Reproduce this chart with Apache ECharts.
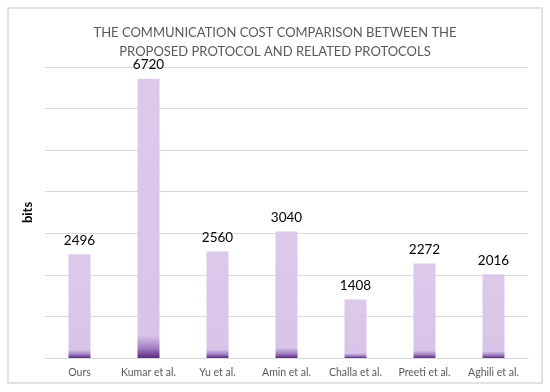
<!DOCTYPE html>
<html><head><meta charset="utf-8">
<script src="https://cdn.jsdelivr.net/npm/echarts@6/dist/echarts.min.js"></script>
<style>html,body{margin:0;padding:0;background:#fff}#c{width:550px;height:392px}</style>
</head><body><div id="c"></div>
<script>
const categories = ['Ours','Kumar et al.','Yu et al.','Amin et al.','Challa et al.','Preeti et al.','Aghili et al.'];
const values = [2496, 6720, 2560, 3040, 1408, 2272, 2016];
const titleText = 'THE COMMUNICATION COST COMPARISON BETWEEN THE\nPROPOSED PROTOCOL AND RELATED PROTOCOLS';
const axisName = 'bits';

const chart = echarts.init(document.getElementById('c'), null, {renderer:'canvas'});
const barColor = {
  type:'linear', x:0, y:0, x2:0, y2:1,
  colorStops:[
    {offset:0, color:'#dcc9ea'},
    {offset:0.92, color:'#d8c4e8'},
    {offset:0.965, color:'#a07fc2'},
    {offset:1, color:'#5a2a80'}
  ]
};
chart.setOption({
  animation:false,
  backgroundColor:'#fff',
  graphic:[{type:'rect', shape:{x:8, y:8, width:534, height:375}, style:{fill:'none', stroke:'#d9d9d9', lineWidth:1.5}}],
  title:{text:titleText, left:'center', top:18, textStyle:{fontFamily:'Lato', fontWeight:'normal', fontSize:13, color:'#595959', lineHeight:19}},
  grid:{left:45, right:22, top:67, bottom:34},
  xAxis:{type:'category', data:categories,
    axisLine:{lineStyle:{color:'#d9d9d9'}}, axisTick:{show:false},
    axisLabel:{interval:0, fontFamily:'Lato', fontSize:10.5, color:'#595959', margin:9}},
  yAxis:{type:'value', min:0, max:7000, interval:1000,
    name:axisName, nameLocation:'middle', nameGap:11, nameRotate:90,
    nameTextStyle:{fontFamily:'Lato', fontWeight:'bold', fontSize:13, color:'#000'},
    axisLabel:{show:false}, axisLine:{show:false}, axisTick:{show:false},
    splitLine:{lineStyle:{color:'#d9d9d9'}}},
  series:[{type:'bar', data:values, barWidth:22,
    itemStyle:{color:barColor},
    label:{show:true, position:'top', distance:7, fontFamily:'Lato', fontSize:13.5, color:'#000'}}]
});
</script></body></html>
